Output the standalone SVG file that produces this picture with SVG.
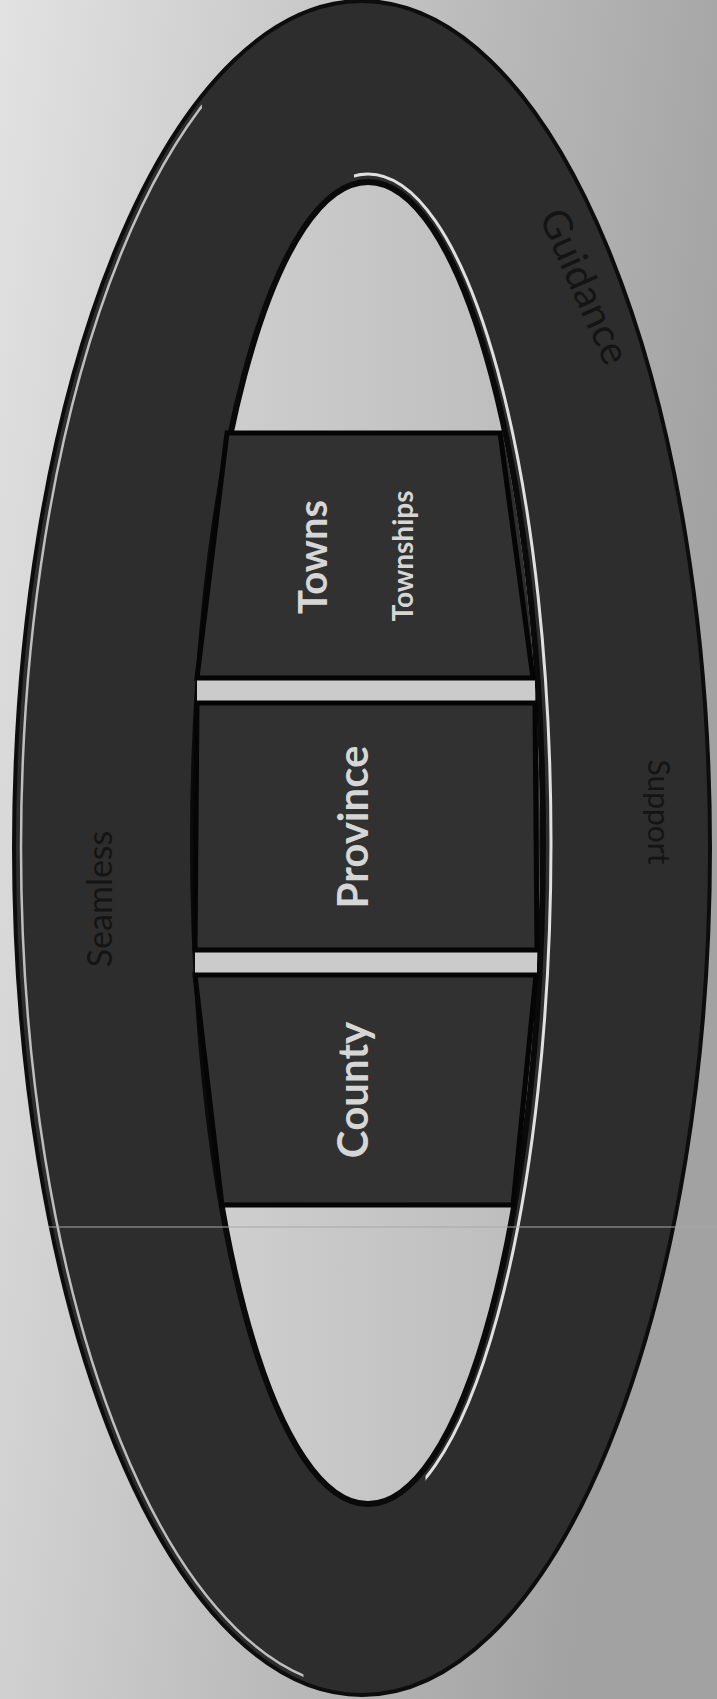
<svg xmlns="http://www.w3.org/2000/svg" width="717" height="1699" viewBox="0 0 717 1699">
  <defs>
    <linearGradient id="bg" x1="0" y1="0" x2="1" y2="0.3">
      <stop offset="0" stop-color="#e2e2e2"/>
      <stop offset="0.5" stop-color="#c2c2c2"/>
      <stop offset="1" stop-color="#a2a2a2"/>
    </linearGradient>
    <linearGradient id="innerFill" x1="0" y1="0" x2="1" y2="0">
      <stop offset="0" stop-color="#d0d0d0"/>
      <stop offset="1" stop-color="#bcbcbc"/>
    </linearGradient>
    <clipPath id="rightSide">
      <polygon points="352,140 717,140 717,1560 430,1560"/>
    </clipPath>
    <clipPath id="leftSide">
      <polygon points="0,0 195,0 305,1699 0,1699"/>
    </clipPath>
    <clipPath id="band">
      <rect x="0" y="433" width="717" height="772"/>
    </clipPath>
    <style>
      .box { fill: #313131; stroke: #050505; stroke-width: 5; stroke-linejoin: miter; }
      .gap { fill: #cbcbcb; }
      .main { font-family: Lato, "Open Sans", "Liberation Sans", sans-serif; font-weight: 700; fill: #d6d6d6; text-anchor: middle; }
      .ringtxt { font-family: Lato, "Open Sans", "Liberation Sans", sans-serif; font-weight: 400; fill: #141414; text-anchor: middle; }
    </style>
  </defs>

  <rect x="0" y="0" width="717" height="1699" fill="url(#bg)"/>

  <g id="ring">
    <ellipse cx="362" cy="848" rx="348" ry="847" fill="#2d2d2d" stroke="#0d0d0d" stroke-width="4"/>
    <ellipse cx="362" cy="848" rx="341" ry="840" fill="none" stroke="#d8d8d8" stroke-width="2.5" stroke-opacity="0.85" clip-path="url(#leftSide)"/>
    <text class="ringtxt" font-size="34" transform="translate(112 899) rotate(-90)">Seamless</text>
    <text class="ringtxt" font-size="40" transform="translate(572 292) rotate(66)">Guidance</text>
    <text class="ringtxt" font-size="30" transform="translate(648 812) rotate(90)">Support</text>
  </g>

  <g id="inner">
    <ellipse cx="368" cy="843" rx="175" ry="661" fill="url(#innerFill)" stroke="#0a0a0a" stroke-width="6"/>
    <ellipse cx="368" cy="843" rx="172" ry="658" fill="#2d2d2d" clip-path="url(#band)"/>
    <ellipse cx="368" cy="843" rx="183" ry="669" fill="none" stroke="#e0e0e0" stroke-width="3" clip-path="url(#rightSide)"/>
    <rect class="gap" x="197" y="678" width="338" height="25"/>
    <rect class="gap" x="195" y="950" width="342" height="25"/>
  </g>

  <g id="node-towns">
    <polygon class="box" points="227,433 500,433 533,678 197,678"/>
    <text class="main" font-size="40" transform="translate(327 557) rotate(-90)">Towns</text>
    <text class="main" font-size="28" transform="translate(413 556) rotate(-90)">Townships</text>
  </g>

  <g id="node-province">
    <polygon class="box" points="197,703 535,703 537,950 195,950"/>
    <text class="main" font-size="42" transform="translate(368 827) rotate(-90)">Province</text>
  </g>

  <g id="node-county">
    <polygon class="box" points="195,975 536,975 513,1205 222,1205"/>
    <text class="main" font-size="42" transform="translate(368 1090) rotate(-90)">County</text>
  </g>

  <g id="connectors"/>

  <line x1="48" y1="1227" x2="717" y2="1227" stroke="#a8a8a8" stroke-width="1"/>
</svg>
